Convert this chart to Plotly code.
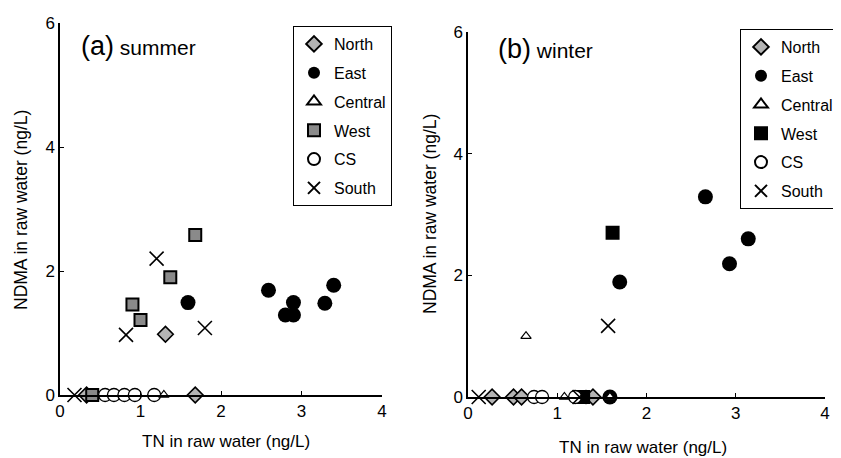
import plotly.graph_objects as go

# ---------------- data ----------------
regions = ["North", "East", "Central", "West", "CS", "South"]

# (a) summer
north_s_x = [1.31, 0.33, 1.68]
north_s_y = [0.98, 0.0, 0.0]
east_s_x = [1.59, 2.59, 2.80, 2.90, 2.90, 3.29, 3.40]
east_s_y = [1.49, 1.69, 1.29, 1.29, 1.49, 1.48, 1.77]
central_s_x = [1.29]
central_s_y = [0.0]
west_s_x = [1.68, 1.37, 0.90, 1.00, 0.40]
west_s_y = [2.58, 1.90, 1.46, 1.21, 0.0]
cs_s_x = [0.56, 0.67, 0.80, 0.93, 1.17]
cs_s_y = [0.0, 0.0, 0.0, 0.0, 0.0]
south_s_x = [1.20, 0.82, 1.80, 0.18]
south_s_y = [2.20, 0.97, 1.08, 0.0]

# (b) winter
north_w_x = [0.27, 0.51, 0.60, 1.40]
north_w_y = [0.0, 0.0, 0.0, 0.0]
east_w_x = [2.66, 3.14, 2.93, 1.70, 1.59]
east_w_y = [3.29, 2.60, 2.19, 1.89, 0.0]
central_w_x = [0.65, 1.08, 1.59]
central_w_y = [1.00, 0.0, 0.0]
west_w_x = [1.62, 1.29]
west_w_y = [2.70, 0.0]
cs_w_x = [0.74, 0.83, 1.20]
cs_w_y = [0.0, 0.0, 0.0]
south_w_x = [1.57, 0.12, 1.25]
south_w_y = [1.17, 0.0, 0.0]

x_ticks = [0, 1, 2, 3, 4]
y_ticks = [0, 2, 4, 6]

FONT = "Liberation Sans, Arial, Helvetica, sans-serif"

# the page body has an 8px margin; size the figure so it fills the window
OFF = 8
W, H = 841 - OFF, 458 - OFF


def px(x):
    return (x - OFF) / W


def py(y):
    return 1 - (y - OFF) / H


fig = go.Figure()


def add_set(xs, ys, xa, ya, legend, west_fill):
    styles = {
        "North": dict(symbol="diamond", size=12, color="#b4b4b4",
                      line=dict(color="black", width=1.6)),
        "East": dict(symbol="circle", size=15, color="black",
                     line=dict(color="black", width=0)),
        "West": dict(symbol="square", size=12, color=west_fill,
                     line=dict(color="black", width=2)),
        "CS": dict(symbol="circle", size=13, color="white",
                   line=dict(color="black", width=1.3)),
        "South": dict(symbol="x-thin", size=14, color="black",
                      line=dict(color="black", width=1.6)),
        "Central": dict(symbol="triangle-up", size=9, color="white",
                        line=dict(color="black", width=1.2)),
    }
    draw_order = ["North", "East", "West", "CS", "South", "Central"]
    for name in draw_order:
        i = regions.index(name)
        fig.add_trace(go.Scatter(
            x=xs[i], y=ys[i], mode="markers", name=name,
            marker=styles[name], xaxis=xa, yaxis=ya,
            legend=legend, legendrank=i + 1,
            legendgroup=legend + name, cliponaxis=False,
        ))


add_set([north_s_x, east_s_x, central_s_x, west_s_x, cs_s_x, south_s_x],
        [north_s_y, east_s_y, central_s_y, west_s_y, cs_s_y, south_s_y],
        "x", "y", "legend", "#8a8a8a")
add_set([north_w_x, east_w_x, central_w_x, west_w_x, cs_w_x, south_w_x],
        [north_w_y, east_w_y, central_w_y, west_w_y, cs_w_y, south_w_y],
        "x2", "y2", "legend2", "black")

axis_common = dict(
    showline=True, linecolor="black", linewidth=1.5, mirror=False,
    ticks="inside", ticklen=4, tickwidth=1, tickcolor="black",
    showgrid=False, zeroline=False, automargin=False,
    tickfont=dict(family=FONT, size=17, color="black"),
)

leg_common = dict(
    bordercolor="black", borderwidth=1, bgcolor="white",
    font=dict(family=FONT, size=16, color="black"),
    tracegroupgap=5, itemwidth=30, itemsizing="constant",
    xanchor="right", yanchor="top",
)

fig.update_layout(
    width=W, height=H,
    margin=dict(l=0, r=0, t=0, b=0, autoexpand=False),
    paper_bgcolor="white", plot_bgcolor="white",
    font=dict(family=FONT, color="black"),
    xaxis=dict(domain=[px(60), px(382)], range=[0, 4], tickvals=x_ticks,
               anchor="y", **axis_common),
    yaxis=dict(domain=[py(395), py(23)], range=[0, 6], tickvals=y_ticks,
               anchor="x", **axis_common),
    xaxis2=dict(domain=[px(468), px(825)], range=[0, 4], tickvals=x_ticks,
                anchor="y2", **axis_common),
    yaxis2=dict(domain=[py(397), py(32)], range=[0, 6], tickvals=y_ticks,
                anchor="x2", **axis_common),
    legend=dict(x=px(392), y=py(26), **leg_common),
    legend2=dict(x=px(839), y=py(29), **leg_common),
)

annos = [
    dict(text="<span style='font-size:27px'>(a)</span> summer", x=px(79), y=py(46),
         xanchor="left", yanchor="middle", font=dict(size=21)),
    dict(text="<span style='font-size:27px'>(b)</span> winter", x=px(496), y=py(49),
         xanchor="left", yanchor="middle", font=dict(size=21)),
    dict(text="NDMA in raw water (ng/L)", x=px(21), y=py(210), textangle=-90,
         xanchor="center", yanchor="middle", font=dict(size=17.5)),
    dict(text="NDMA in raw water (ng/L)", x=px(430), y=py(214), textangle=-90,
         xanchor="center", yanchor="middle", font=dict(size=17.5)),
    dict(text="TN in raw water (ng/L)", x=px(226), y=py(441),
         xanchor="center", yanchor="middle", font=dict(size=17)),
    dict(text="TN in raw water (ng/L)", x=px(643), y=py(447),
         xanchor="center", yanchor="middle", font=dict(size=17)),
]
for a in annos:
    a.update(xref="paper", yref="paper", showarrow=False)
    a["font"].update(family=FONT, color="black")
    fig.add_annotation(**a)

fig.write_html("out.html")
